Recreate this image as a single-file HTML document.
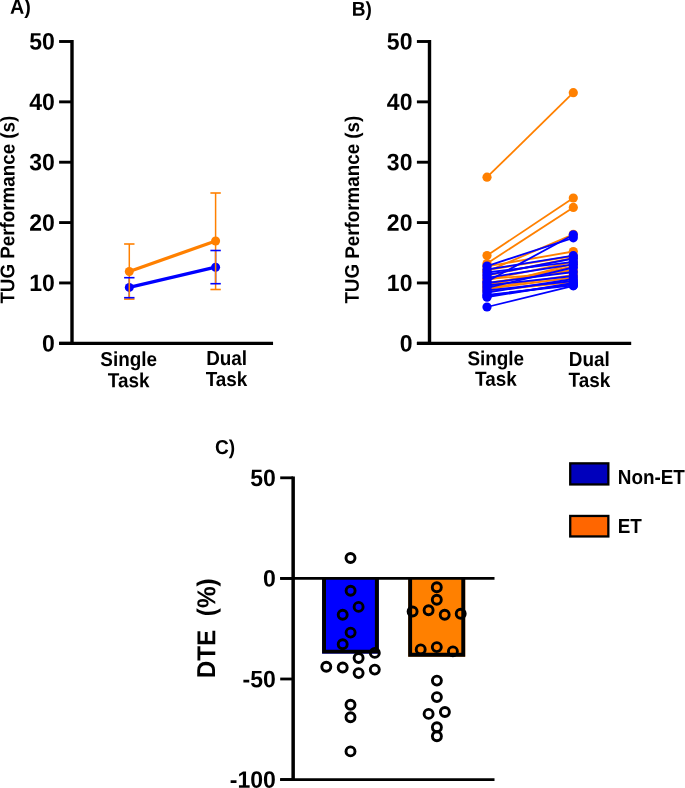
<!DOCTYPE html>
<html><head><meta charset="utf-8"><style>
html,body{margin:0;padding:0;background:#fff;}
body{width:685px;height:788px;overflow:hidden;}
svg{display:block;will-change:transform;}
text{font-family:"Liberation Sans", sans-serif;font-weight:bold;fill:#000;text-rendering:geometricPrecision;}
</style></head><body>
<svg width="685" height="788" viewBox="0 0 685 788">
<line x1="72.00" y1="40.06" x2="72.00" y2="344.90" stroke="#000" stroke-width="3.4" stroke-linecap="butt"/>
<line x1="59.10" y1="41.50" x2="72.00" y2="41.50" stroke="#000" stroke-width="2.9" stroke-linecap="butt"/>
<text transform="translate(54.80,49.60) rotate(0.1) scale(1.0,1.035)" font-size="23" text-anchor="end" >50</text>
<line x1="59.10" y1="101.86" x2="72.00" y2="101.86" stroke="#000" stroke-width="2.9" stroke-linecap="butt"/>
<text transform="translate(54.80,109.96) rotate(0.1) scale(1.0,1.035)" font-size="23" text-anchor="end" >40</text>
<line x1="59.10" y1="162.22" x2="72.00" y2="162.22" stroke="#000" stroke-width="2.9" stroke-linecap="butt"/>
<text transform="translate(54.80,170.32) rotate(0.1) scale(1.0,1.035)" font-size="23" text-anchor="end" >30</text>
<line x1="59.10" y1="222.58" x2="72.00" y2="222.58" stroke="#000" stroke-width="2.9" stroke-linecap="butt"/>
<text transform="translate(54.80,230.68) rotate(0.1) scale(1.0,1.035)" font-size="23" text-anchor="end" >20</text>
<line x1="59.10" y1="282.94" x2="72.00" y2="282.94" stroke="#000" stroke-width="2.9" stroke-linecap="butt"/>
<text transform="translate(54.80,291.04) rotate(0.1) scale(1.0,1.035)" font-size="23" text-anchor="end" >10</text>
<line x1="59.10" y1="343.30" x2="72.00" y2="343.30" stroke="#000" stroke-width="2.9" stroke-linecap="butt"/>
<text transform="translate(54.80,351.40) rotate(0.1) scale(1.0,1.035)" font-size="23" text-anchor="end" >0</text>
<line x1="59.10" y1="343.30" x2="273.05" y2="343.30" stroke="#000" stroke-width="3.2" stroke-linecap="butt"/>
<text transform="translate(128.70,366.00) rotate(0.1) scale(1.0,1.07)" font-size="18.9" text-anchor="middle" >Single</text>
<text transform="translate(128.60,387.20) rotate(0.1) scale(1.0,1.07)" font-size="18.9" text-anchor="middle" >Task</text>
<text transform="translate(226.60,365.00) rotate(0.1) scale(1.0,1.07)" font-size="18.9" text-anchor="middle" >Dual</text>
<text transform="translate(226.55,386.10) rotate(0.1) scale(1.0,1.07)" font-size="18.9" text-anchor="middle" >Task</text>
<text transform="translate(14.20,303.60) rotate(-89.9) scale(1.0,1.055)" font-size="18.8" text-anchor="start" >TUG Performance (s)</text>
<line x1="429.50" y1="40.06" x2="429.50" y2="344.90" stroke="#000" stroke-width="3.4" stroke-linecap="butt"/>
<line x1="416.90" y1="41.50" x2="429.50" y2="41.50" stroke="#000" stroke-width="2.9" stroke-linecap="butt"/>
<text transform="translate(412.45,49.60) rotate(0.1) scale(1.0,1.035)" font-size="23" text-anchor="end" >50</text>
<line x1="416.90" y1="101.86" x2="429.50" y2="101.86" stroke="#000" stroke-width="2.9" stroke-linecap="butt"/>
<text transform="translate(412.45,109.96) rotate(0.1) scale(1.0,1.035)" font-size="23" text-anchor="end" >40</text>
<line x1="416.90" y1="162.22" x2="429.50" y2="162.22" stroke="#000" stroke-width="2.9" stroke-linecap="butt"/>
<text transform="translate(412.45,170.32) rotate(0.1) scale(1.0,1.035)" font-size="23" text-anchor="end" >30</text>
<line x1="416.90" y1="222.58" x2="429.50" y2="222.58" stroke="#000" stroke-width="2.9" stroke-linecap="butt"/>
<text transform="translate(412.45,230.68) rotate(0.1) scale(1.0,1.035)" font-size="23" text-anchor="end" >20</text>
<line x1="416.90" y1="282.94" x2="429.50" y2="282.94" stroke="#000" stroke-width="2.9" stroke-linecap="butt"/>
<text transform="translate(412.45,291.04) rotate(0.1) scale(1.0,1.035)" font-size="23" text-anchor="end" >10</text>
<line x1="416.90" y1="343.30" x2="429.50" y2="343.30" stroke="#000" stroke-width="2.9" stroke-linecap="butt"/>
<text transform="translate(412.45,351.40) rotate(0.1) scale(1.0,1.035)" font-size="23" text-anchor="end" >0</text>
<line x1="416.90" y1="343.30" x2="631.20" y2="343.30" stroke="#000" stroke-width="3.2" stroke-linecap="butt"/>
<text transform="translate(495.75,365.20) rotate(0.1) scale(1.0,1.07)" font-size="18.9" text-anchor="middle" >Single</text>
<text transform="translate(495.85,385.70) rotate(0.1) scale(1.0,1.07)" font-size="18.9" text-anchor="middle" >Task</text>
<text transform="translate(589.25,366.00) rotate(0.1) scale(1.0,1.07)" font-size="18.9" text-anchor="middle" >Dual</text>
<text transform="translate(589.40,386.90) rotate(0.1) scale(1.0,1.07)" font-size="18.9" text-anchor="middle" >Task</text>
<text transform="translate(358.80,303.60) rotate(-89.9) scale(1.0,1.055)" font-size="18.8" text-anchor="start" >TUG Performance (s)</text>
<text transform="translate(10.05,13.70) rotate(0.1) scale(1.0,1.05)" font-size="19.8" text-anchor="start" >A)</text>
<text transform="translate(351.80,15.70) rotate(0.1) scale(1.0,1.05)" font-size="19.1" text-anchor="start" >B)</text>
<line x1="129.30" y1="287.40" x2="215.60" y2="267.20" stroke="#0000FF" stroke-width="3.3" stroke-linecap="butt"/>
<line x1="129.30" y1="277.70" x2="129.30" y2="297.70" stroke="#0000FF" stroke-width="1.5" stroke-linecap="butt"/>
<line x1="215.60" y1="250.50" x2="215.60" y2="283.70" stroke="#0000FF" stroke-width="1.5" stroke-linecap="butt"/>
<circle cx="129.30" cy="287.40" r="4.5" fill="#0000FF" stroke="none" stroke-width="0"/>
<circle cx="215.60" cy="267.20" r="4.5" fill="#0000FF" stroke="none" stroke-width="0"/>
<line x1="129.30" y1="244.00" x2="129.30" y2="299.10" stroke="#FF8000" stroke-width="1.5" stroke-linecap="butt"/>
<line x1="215.60" y1="193.00" x2="215.60" y2="289.50" stroke="#FF8000" stroke-width="1.5" stroke-linecap="butt"/>
<line x1="124.10" y1="244.00" x2="134.50" y2="244.00" stroke="#FF8000" stroke-width="1.6" stroke-linecap="butt"/>
<line x1="124.10" y1="299.10" x2="134.50" y2="299.10" stroke="#FF8000" stroke-width="1.6" stroke-linecap="butt"/>
<line x1="210.40" y1="193.00" x2="220.80" y2="193.00" stroke="#FF8000" stroke-width="1.6" stroke-linecap="butt"/>
<line x1="210.40" y1="289.50" x2="220.80" y2="289.50" stroke="#FF8000" stroke-width="1.6" stroke-linecap="butt"/>
<line x1="124.10" y1="277.70" x2="134.50" y2="277.70" stroke="#0000FF" stroke-width="1.6" stroke-linecap="butt"/>
<line x1="124.10" y1="297.70" x2="134.50" y2="297.70" stroke="#0000FF" stroke-width="1.6" stroke-linecap="butt"/>
<line x1="210.40" y1="250.50" x2="220.80" y2="250.50" stroke="#0000FF" stroke-width="1.6" stroke-linecap="butt"/>
<line x1="210.40" y1="283.70" x2="220.80" y2="283.70" stroke="#0000FF" stroke-width="1.6" stroke-linecap="butt"/>
<line x1="129.30" y1="271.50" x2="215.60" y2="241.00" stroke="#FF8000" stroke-width="3.3" stroke-linecap="butt"/>
<circle cx="129.30" cy="271.50" r="4.5" fill="#FF8000" stroke="none" stroke-width="0"/>
<circle cx="215.60" cy="241.00" r="4.5" fill="#FF8000" stroke="none" stroke-width="0"/>
<line x1="487.00" y1="177.20" x2="573.30" y2="92.70" stroke="#FF8000" stroke-width="1.8" stroke-linecap="butt"/>
<line x1="487.00" y1="255.50" x2="573.30" y2="198.00" stroke="#FF8000" stroke-width="1.8" stroke-linecap="butt"/>
<line x1="487.00" y1="263.50" x2="573.30" y2="207.40" stroke="#FF8000" stroke-width="1.8" stroke-linecap="butt"/>
<line x1="487.00" y1="266.40" x2="573.30" y2="251.50" stroke="#FF8000" stroke-width="1.8" stroke-linecap="butt"/>
<line x1="487.00" y1="271.50" x2="573.30" y2="234.30" stroke="#FF8000" stroke-width="1.8" stroke-linecap="butt"/>
<line x1="487.00" y1="275.50" x2="573.30" y2="258.00" stroke="#FF8000" stroke-width="1.8" stroke-linecap="butt"/>
<line x1="487.00" y1="284.50" x2="573.30" y2="266.50" stroke="#FF8000" stroke-width="1.8" stroke-linecap="butt"/>
<line x1="487.00" y1="291.00" x2="573.30" y2="282.00" stroke="#FF8000" stroke-width="1.8" stroke-linecap="butt"/>
<line x1="487.00" y1="286.30" x2="573.30" y2="264.00" stroke="#FF8000" stroke-width="1.8" stroke-linecap="butt"/>
<line x1="487.00" y1="270.00" x2="573.30" y2="256.00" stroke="#FF8000" stroke-width="1.8" stroke-linecap="butt"/>
<line x1="487.00" y1="280.00" x2="573.30" y2="262.00" stroke="#FF8000" stroke-width="1.8" stroke-linecap="butt"/>
<line x1="487.00" y1="283.00" x2="573.30" y2="270.00" stroke="#FF8000" stroke-width="1.8" stroke-linecap="butt"/>
<line x1="487.00" y1="288.00" x2="573.30" y2="275.00" stroke="#FF8000" stroke-width="1.8" stroke-linecap="butt"/>
<line x1="487.00" y1="289.00" x2="573.30" y2="277.50" stroke="#FF8000" stroke-width="1.8" stroke-linecap="butt"/>
<line x1="487.00" y1="279.00" x2="573.30" y2="272.00" stroke="#FF8000" stroke-width="1.8" stroke-linecap="butt"/>
<circle cx="487.00" cy="177.20" r="4.6" fill="#FF8000" stroke="none" stroke-width="0"/>
<circle cx="573.30" cy="92.70" r="4.6" fill="#FF8000" stroke="none" stroke-width="0"/>
<circle cx="487.00" cy="255.50" r="4.6" fill="#FF8000" stroke="none" stroke-width="0"/>
<circle cx="573.30" cy="198.00" r="4.6" fill="#FF8000" stroke="none" stroke-width="0"/>
<circle cx="487.00" cy="263.50" r="4.6" fill="#FF8000" stroke="none" stroke-width="0"/>
<circle cx="573.30" cy="207.40" r="4.6" fill="#FF8000" stroke="none" stroke-width="0"/>
<circle cx="487.00" cy="266.40" r="4.6" fill="#FF8000" stroke="none" stroke-width="0"/>
<circle cx="573.30" cy="251.50" r="4.6" fill="#FF8000" stroke="none" stroke-width="0"/>
<circle cx="487.00" cy="271.50" r="4.6" fill="#FF8000" stroke="none" stroke-width="0"/>
<circle cx="573.30" cy="234.30" r="4.6" fill="#FF8000" stroke="none" stroke-width="0"/>
<circle cx="487.00" cy="275.50" r="4.6" fill="#FF8000" stroke="none" stroke-width="0"/>
<circle cx="573.30" cy="258.00" r="4.6" fill="#FF8000" stroke="none" stroke-width="0"/>
<circle cx="487.00" cy="284.50" r="4.6" fill="#FF8000" stroke="none" stroke-width="0"/>
<circle cx="573.30" cy="266.50" r="4.6" fill="#FF8000" stroke="none" stroke-width="0"/>
<circle cx="487.00" cy="291.00" r="4.6" fill="#FF8000" stroke="none" stroke-width="0"/>
<circle cx="573.30" cy="282.00" r="4.6" fill="#FF8000" stroke="none" stroke-width="0"/>
<circle cx="487.00" cy="286.30" r="4.6" fill="#FF8000" stroke="none" stroke-width="0"/>
<circle cx="573.30" cy="264.00" r="4.6" fill="#FF8000" stroke="none" stroke-width="0"/>
<circle cx="487.00" cy="270.00" r="4.6" fill="#FF8000" stroke="none" stroke-width="0"/>
<circle cx="573.30" cy="256.00" r="4.6" fill="#FF8000" stroke="none" stroke-width="0"/>
<circle cx="487.00" cy="280.00" r="4.6" fill="#FF8000" stroke="none" stroke-width="0"/>
<circle cx="573.30" cy="262.00" r="4.6" fill="#FF8000" stroke="none" stroke-width="0"/>
<circle cx="487.00" cy="283.00" r="4.6" fill="#FF8000" stroke="none" stroke-width="0"/>
<circle cx="573.30" cy="270.00" r="4.6" fill="#FF8000" stroke="none" stroke-width="0"/>
<circle cx="487.00" cy="288.00" r="4.6" fill="#FF8000" stroke="none" stroke-width="0"/>
<circle cx="573.30" cy="275.00" r="4.6" fill="#FF8000" stroke="none" stroke-width="0"/>
<circle cx="487.00" cy="289.00" r="4.6" fill="#FF8000" stroke="none" stroke-width="0"/>
<circle cx="573.30" cy="277.50" r="4.6" fill="#FF8000" stroke="none" stroke-width="0"/>
<circle cx="487.00" cy="279.00" r="4.6" fill="#FF8000" stroke="none" stroke-width="0"/>
<circle cx="573.30" cy="272.00" r="4.6" fill="#FF8000" stroke="none" stroke-width="0"/>
<line x1="487.00" y1="266.10" x2="573.30" y2="237.80" stroke="#0000FF" stroke-width="1.8" stroke-linecap="butt"/>
<line x1="487.00" y1="281.50" x2="573.30" y2="234.80" stroke="#0000FF" stroke-width="1.8" stroke-linecap="butt"/>
<line x1="487.00" y1="272.50" x2="573.30" y2="261.80" stroke="#0000FF" stroke-width="1.8" stroke-linecap="butt"/>
<line x1="487.00" y1="277.80" x2="573.30" y2="264.30" stroke="#0000FF" stroke-width="1.8" stroke-linecap="butt"/>
<line x1="487.00" y1="287.80" x2="573.30" y2="267.50" stroke="#0000FF" stroke-width="1.8" stroke-linecap="butt"/>
<line x1="487.00" y1="290.40" x2="573.30" y2="281.00" stroke="#0000FF" stroke-width="1.8" stroke-linecap="butt"/>
<line x1="487.00" y1="294.80" x2="573.30" y2="285.40" stroke="#0000FF" stroke-width="1.8" stroke-linecap="butt"/>
<line x1="487.00" y1="295.80" x2="573.30" y2="284.00" stroke="#0000FF" stroke-width="1.8" stroke-linecap="butt"/>
<line x1="487.00" y1="307.00" x2="573.30" y2="285.80" stroke="#0000FF" stroke-width="1.8" stroke-linecap="butt"/>
<line x1="487.00" y1="269.50" x2="573.30" y2="255.70" stroke="#0000FF" stroke-width="1.8" stroke-linecap="butt"/>
<line x1="487.00" y1="275.00" x2="573.30" y2="258.50" stroke="#0000FF" stroke-width="1.8" stroke-linecap="butt"/>
<line x1="487.00" y1="283.00" x2="573.30" y2="272.00" stroke="#0000FF" stroke-width="1.8" stroke-linecap="butt"/>
<line x1="487.00" y1="285.50" x2="573.30" y2="276.00" stroke="#0000FF" stroke-width="1.8" stroke-linecap="butt"/>
<line x1="487.00" y1="292.50" x2="573.30" y2="279.00" stroke="#0000FF" stroke-width="1.8" stroke-linecap="butt"/>
<line x1="487.00" y1="297.20" x2="573.30" y2="283.00" stroke="#0000FF" stroke-width="1.8" stroke-linecap="butt"/>
<circle cx="487.00" cy="266.10" r="4.6" fill="#0000FF" stroke="none" stroke-width="0"/>
<circle cx="573.30" cy="237.80" r="4.6" fill="#0000FF" stroke="none" stroke-width="0"/>
<circle cx="487.00" cy="281.50" r="4.6" fill="#0000FF" stroke="none" stroke-width="0"/>
<circle cx="573.30" cy="234.80" r="4.6" fill="#0000FF" stroke="none" stroke-width="0"/>
<circle cx="487.00" cy="272.50" r="4.6" fill="#0000FF" stroke="none" stroke-width="0"/>
<circle cx="573.30" cy="261.80" r="4.6" fill="#0000FF" stroke="none" stroke-width="0"/>
<circle cx="487.00" cy="277.80" r="4.6" fill="#0000FF" stroke="none" stroke-width="0"/>
<circle cx="573.30" cy="264.30" r="4.6" fill="#0000FF" stroke="none" stroke-width="0"/>
<circle cx="487.00" cy="287.80" r="4.6" fill="#0000FF" stroke="none" stroke-width="0"/>
<circle cx="573.30" cy="267.50" r="4.6" fill="#0000FF" stroke="none" stroke-width="0"/>
<circle cx="487.00" cy="290.40" r="4.6" fill="#0000FF" stroke="none" stroke-width="0"/>
<circle cx="573.30" cy="281.00" r="4.6" fill="#0000FF" stroke="none" stroke-width="0"/>
<circle cx="487.00" cy="294.80" r="4.6" fill="#0000FF" stroke="none" stroke-width="0"/>
<circle cx="573.30" cy="285.40" r="4.6" fill="#0000FF" stroke="none" stroke-width="0"/>
<circle cx="487.00" cy="295.80" r="4.6" fill="#0000FF" stroke="none" stroke-width="0"/>
<circle cx="573.30" cy="284.00" r="4.6" fill="#0000FF" stroke="none" stroke-width="0"/>
<circle cx="487.00" cy="307.00" r="4.6" fill="#0000FF" stroke="none" stroke-width="0"/>
<circle cx="573.30" cy="285.80" r="4.6" fill="#0000FF" stroke="none" stroke-width="0"/>
<circle cx="487.00" cy="269.50" r="4.6" fill="#0000FF" stroke="none" stroke-width="0"/>
<circle cx="573.30" cy="255.70" r="4.6" fill="#0000FF" stroke="none" stroke-width="0"/>
<circle cx="487.00" cy="275.00" r="4.6" fill="#0000FF" stroke="none" stroke-width="0"/>
<circle cx="573.30" cy="258.50" r="4.6" fill="#0000FF" stroke="none" stroke-width="0"/>
<circle cx="487.00" cy="283.00" r="4.6" fill="#0000FF" stroke="none" stroke-width="0"/>
<circle cx="573.30" cy="272.00" r="4.6" fill="#0000FF" stroke="none" stroke-width="0"/>
<circle cx="487.00" cy="285.50" r="4.6" fill="#0000FF" stroke="none" stroke-width="0"/>
<circle cx="573.30" cy="276.00" r="4.6" fill="#0000FF" stroke="none" stroke-width="0"/>
<circle cx="487.00" cy="292.50" r="4.6" fill="#0000FF" stroke="none" stroke-width="0"/>
<circle cx="573.30" cy="279.00" r="4.6" fill="#0000FF" stroke="none" stroke-width="0"/>
<circle cx="487.00" cy="297.20" r="4.6" fill="#0000FF" stroke="none" stroke-width="0"/>
<circle cx="573.30" cy="283.00" r="4.6" fill="#0000FF" stroke="none" stroke-width="0"/>
<line x1="293.15" y1="476.40" x2="293.15" y2="780.90" stroke="#000" stroke-width="3.5" stroke-linecap="butt"/>
<line x1="280.20" y1="477.81" x2="293.15" y2="477.81" stroke="#000" stroke-width="2.8" stroke-linecap="butt"/>
<text transform="translate(275.85,486.01) rotate(0.1) scale(1.0,1.035)" font-size="23" text-anchor="end" >50</text>
<line x1="280.20" y1="578.40" x2="293.15" y2="578.40" stroke="#000" stroke-width="2.8" stroke-linecap="butt"/>
<text transform="translate(275.85,586.60) rotate(0.1) scale(1.0,1.035)" font-size="23" text-anchor="end" >0</text>
<line x1="280.20" y1="678.99" x2="293.15" y2="678.99" stroke="#000" stroke-width="2.8" stroke-linecap="butt"/>
<text transform="translate(275.85,687.19) rotate(0.1) scale(1.0,1.035)" font-size="23" text-anchor="end" >-50</text>
<line x1="280.20" y1="779.57" x2="293.15" y2="779.57" stroke="#000" stroke-width="2.8" stroke-linecap="butt"/>
<text transform="translate(275.85,787.77) rotate(0.1) scale(1.0,1.035)" font-size="23" text-anchor="end" >-100</text>
<line x1="280.20" y1="779.57" x2="494.50" y2="779.57" stroke="#000" stroke-width="2.8" stroke-linecap="butt"/>
<rect x="322.10" y="578.40" width="56.70" height="75.20" fill="#0000FF"/>
<path d="M324.05,578.40 V651.65 H376.85 V578.40" fill="none" stroke="#000" stroke-width="3.9" stroke-linejoin="miter"/>
<rect x="408.20" y="578.40" width="57.00" height="78.30" fill="#FF8000"/>
<path d="M410.15,578.40 V654.75 H463.25 V578.40" fill="none" stroke="#000" stroke-width="3.9" stroke-linejoin="miter"/>
<line x1="280.20" y1="578.40" x2="494.50" y2="578.40" stroke="#000" stroke-width="2.8" stroke-linecap="butt"/>
<text transform="translate(215.07,453.90) rotate(0.1) scale(1.0,1.05)" font-size="19.1" text-anchor="start" >C)</text>
<text transform="translate(215.10,678.30) rotate(-89.9) scale(1.0,1.065)" font-size="24.3" text-anchor="start" xml:space="preserve">DTE  (%)</text>
<circle cx="350.50" cy="558.00" r="4.5" fill="none" stroke="#000" stroke-width="2.9"/>
<circle cx="350.60" cy="590.80" r="4.5" fill="none" stroke="#000" stroke-width="2.9"/>
<circle cx="358.60" cy="606.90" r="4.5" fill="none" stroke="#000" stroke-width="2.9"/>
<circle cx="342.70" cy="614.80" r="4.5" fill="none" stroke="#000" stroke-width="2.9"/>
<circle cx="350.60" cy="632.60" r="4.5" fill="none" stroke="#000" stroke-width="2.9"/>
<circle cx="342.70" cy="644.20" r="4.5" fill="none" stroke="#000" stroke-width="2.9"/>
<circle cx="374.80" cy="652.90" r="4.5" fill="none" stroke="#000" stroke-width="2.9"/>
<circle cx="358.60" cy="658.00" r="4.5" fill="none" stroke="#000" stroke-width="2.9"/>
<circle cx="326.30" cy="666.70" r="4.5" fill="none" stroke="#000" stroke-width="2.9"/>
<circle cx="342.70" cy="667.50" r="4.5" fill="none" stroke="#000" stroke-width="2.9"/>
<circle cx="358.60" cy="673.10" r="4.5" fill="none" stroke="#000" stroke-width="2.9"/>
<circle cx="374.80" cy="669.60" r="4.5" fill="none" stroke="#000" stroke-width="2.9"/>
<circle cx="350.50" cy="704.70" r="4.5" fill="none" stroke="#000" stroke-width="2.9"/>
<circle cx="350.50" cy="717.20" r="4.5" fill="none" stroke="#000" stroke-width="2.9"/>
<circle cx="350.50" cy="751.40" r="4.5" fill="none" stroke="#000" stroke-width="2.9"/>
<circle cx="436.80" cy="587.20" r="4.5" fill="none" stroke="#000" stroke-width="2.9"/>
<circle cx="436.80" cy="599.80" r="4.5" fill="none" stroke="#000" stroke-width="2.9"/>
<circle cx="412.60" cy="611.50" r="4.5" fill="none" stroke="#000" stroke-width="2.9"/>
<circle cx="428.60" cy="610.30" r="4.5" fill="none" stroke="#000" stroke-width="2.9"/>
<circle cx="444.70" cy="614.70" r="4.5" fill="none" stroke="#000" stroke-width="2.9"/>
<circle cx="460.70" cy="613.80" r="4.5" fill="none" stroke="#000" stroke-width="2.9"/>
<circle cx="420.70" cy="649.40" r="4.5" fill="none" stroke="#000" stroke-width="2.9"/>
<circle cx="436.80" cy="647.10" r="4.5" fill="none" stroke="#000" stroke-width="2.9"/>
<circle cx="452.90" cy="651.40" r="4.5" fill="none" stroke="#000" stroke-width="2.9"/>
<circle cx="436.90" cy="680.60" r="4.5" fill="none" stroke="#000" stroke-width="2.9"/>
<circle cx="436.90" cy="697.10" r="4.5" fill="none" stroke="#000" stroke-width="2.9"/>
<circle cx="428.60" cy="713.90" r="4.5" fill="none" stroke="#000" stroke-width="2.9"/>
<circle cx="444.90" cy="712.00" r="4.5" fill="none" stroke="#000" stroke-width="2.9"/>
<circle cx="436.90" cy="727.20" r="4.5" fill="none" stroke="#000" stroke-width="2.9"/>
<circle cx="436.90" cy="736.30" r="4.5" fill="none" stroke="#000" stroke-width="2.9"/>
<rect x="570.22" y="463.35" width="38.13" height="21.1" fill="#0000BC" stroke="#000" stroke-width="2.3"/>
<rect x="570.22" y="515.95" width="38.13" height="20.5" fill="#FF6600" stroke="#000" stroke-width="2.3"/>
<text transform="translate(617.76,483.90) rotate(0.1) scale(1.0,1.077)" font-size="18.9" text-anchor="start" >Non-ET</text>
<text transform="translate(617.76,532.90) rotate(0.1) scale(1.0,1.077)" font-size="18.9" text-anchor="start" >ET</text>
</svg>
</body></html>
